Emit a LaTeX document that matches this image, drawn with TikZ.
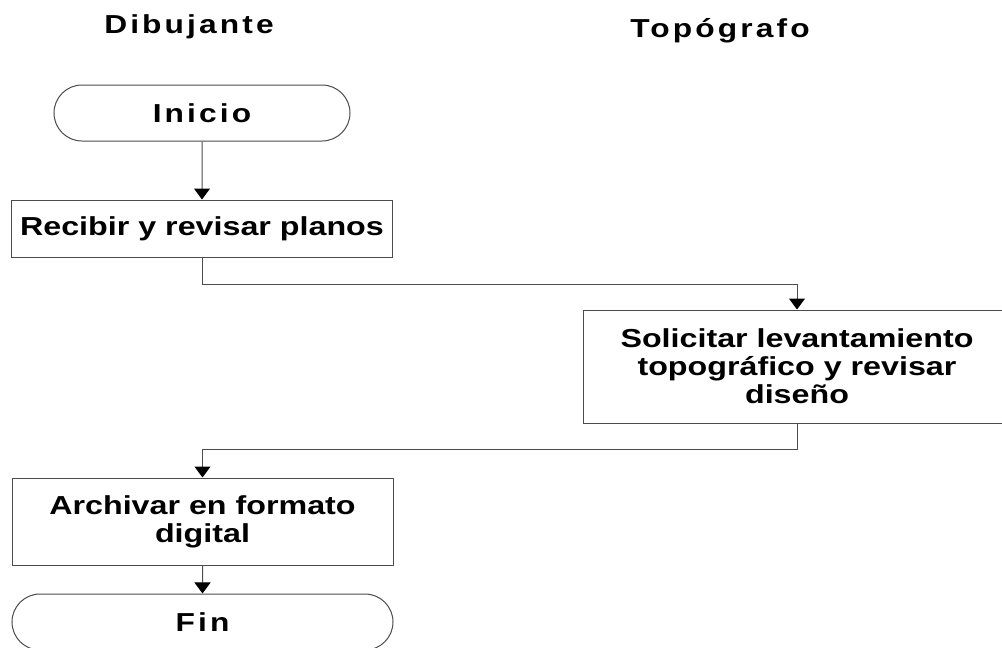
\documentclass[tikz,border=0pt]{standalone}
\usepackage{fontspec}
\setmainfont{Liberation Sans}
\newfontfamily\stepfont[FakeStretch=1.24]{Liberation Sans}
\newfontfamily\widefont[FakeStretch=1.22,LetterSpace=12]{Liberation Sans}
\usetikzlibrary{arrows.meta,positioning,shapes.misc}

\begin{document}
\begin{tikzpicture}[x=1pt, y=-1pt,
    box/.style={rectangle, draw=black!70, line width=1pt, fill=white,
                minimum width=381pt, minimum height=57pt, align=center,
                font=\stepfont\fontsize{26}{28}\selectfont\bfseries, inner sep=0pt},
    term/.style={box, rounded rectangle, minimum width=296pt, minimum height=56pt,
                 font=\widefont\fontsize{26}{28}\selectfont\bfseries},
    arrow/.style={-{Triangle[width=16pt,length=11pt,black]}, line width=1pt, color=black!70},
    lane/.style={anchor=base, font=\widefont\fontsize{26}{28}\selectfont\bfseries},
]

\useasboundingbox (0,0) rectangle (1002,648);
\clip (0,0) rectangle (1002,648);

% carriles
\node[lane] (dibujante) at (189,33) {Dibujante};
\node[lane] (topografo) at (720,37) {Topógrafo};

% pasos
\node[term] (inicio) at (202,113) {Inicio};
\node[box,below=58pt of inicio] (recibir) {Recibir y revisar planos};
\node[box,minimum width=428pt,minimum height=113pt] (solicitar) at (797,366.5)
     {Solicitar levantamiento\\topográfico y revisar\\diseño};
\node[box,minimum height=87pt] (archivar) at (202.5,521.5) {Archivar en formato\\digital};
\node[term,minimum width=381pt,below=28pt of archivar] (fin) {Fin};

\draw[arrow] (inicio) -- (recibir);
\draw[arrow] (recibir.south) -- ++(0,27) -| (solicitar.north);
\draw[arrow] (solicitar.south) -- ++(0,26) -| (archivar.north);
\draw[arrow] (archivar) -- (fin);

\end{tikzpicture}
\end{document}
